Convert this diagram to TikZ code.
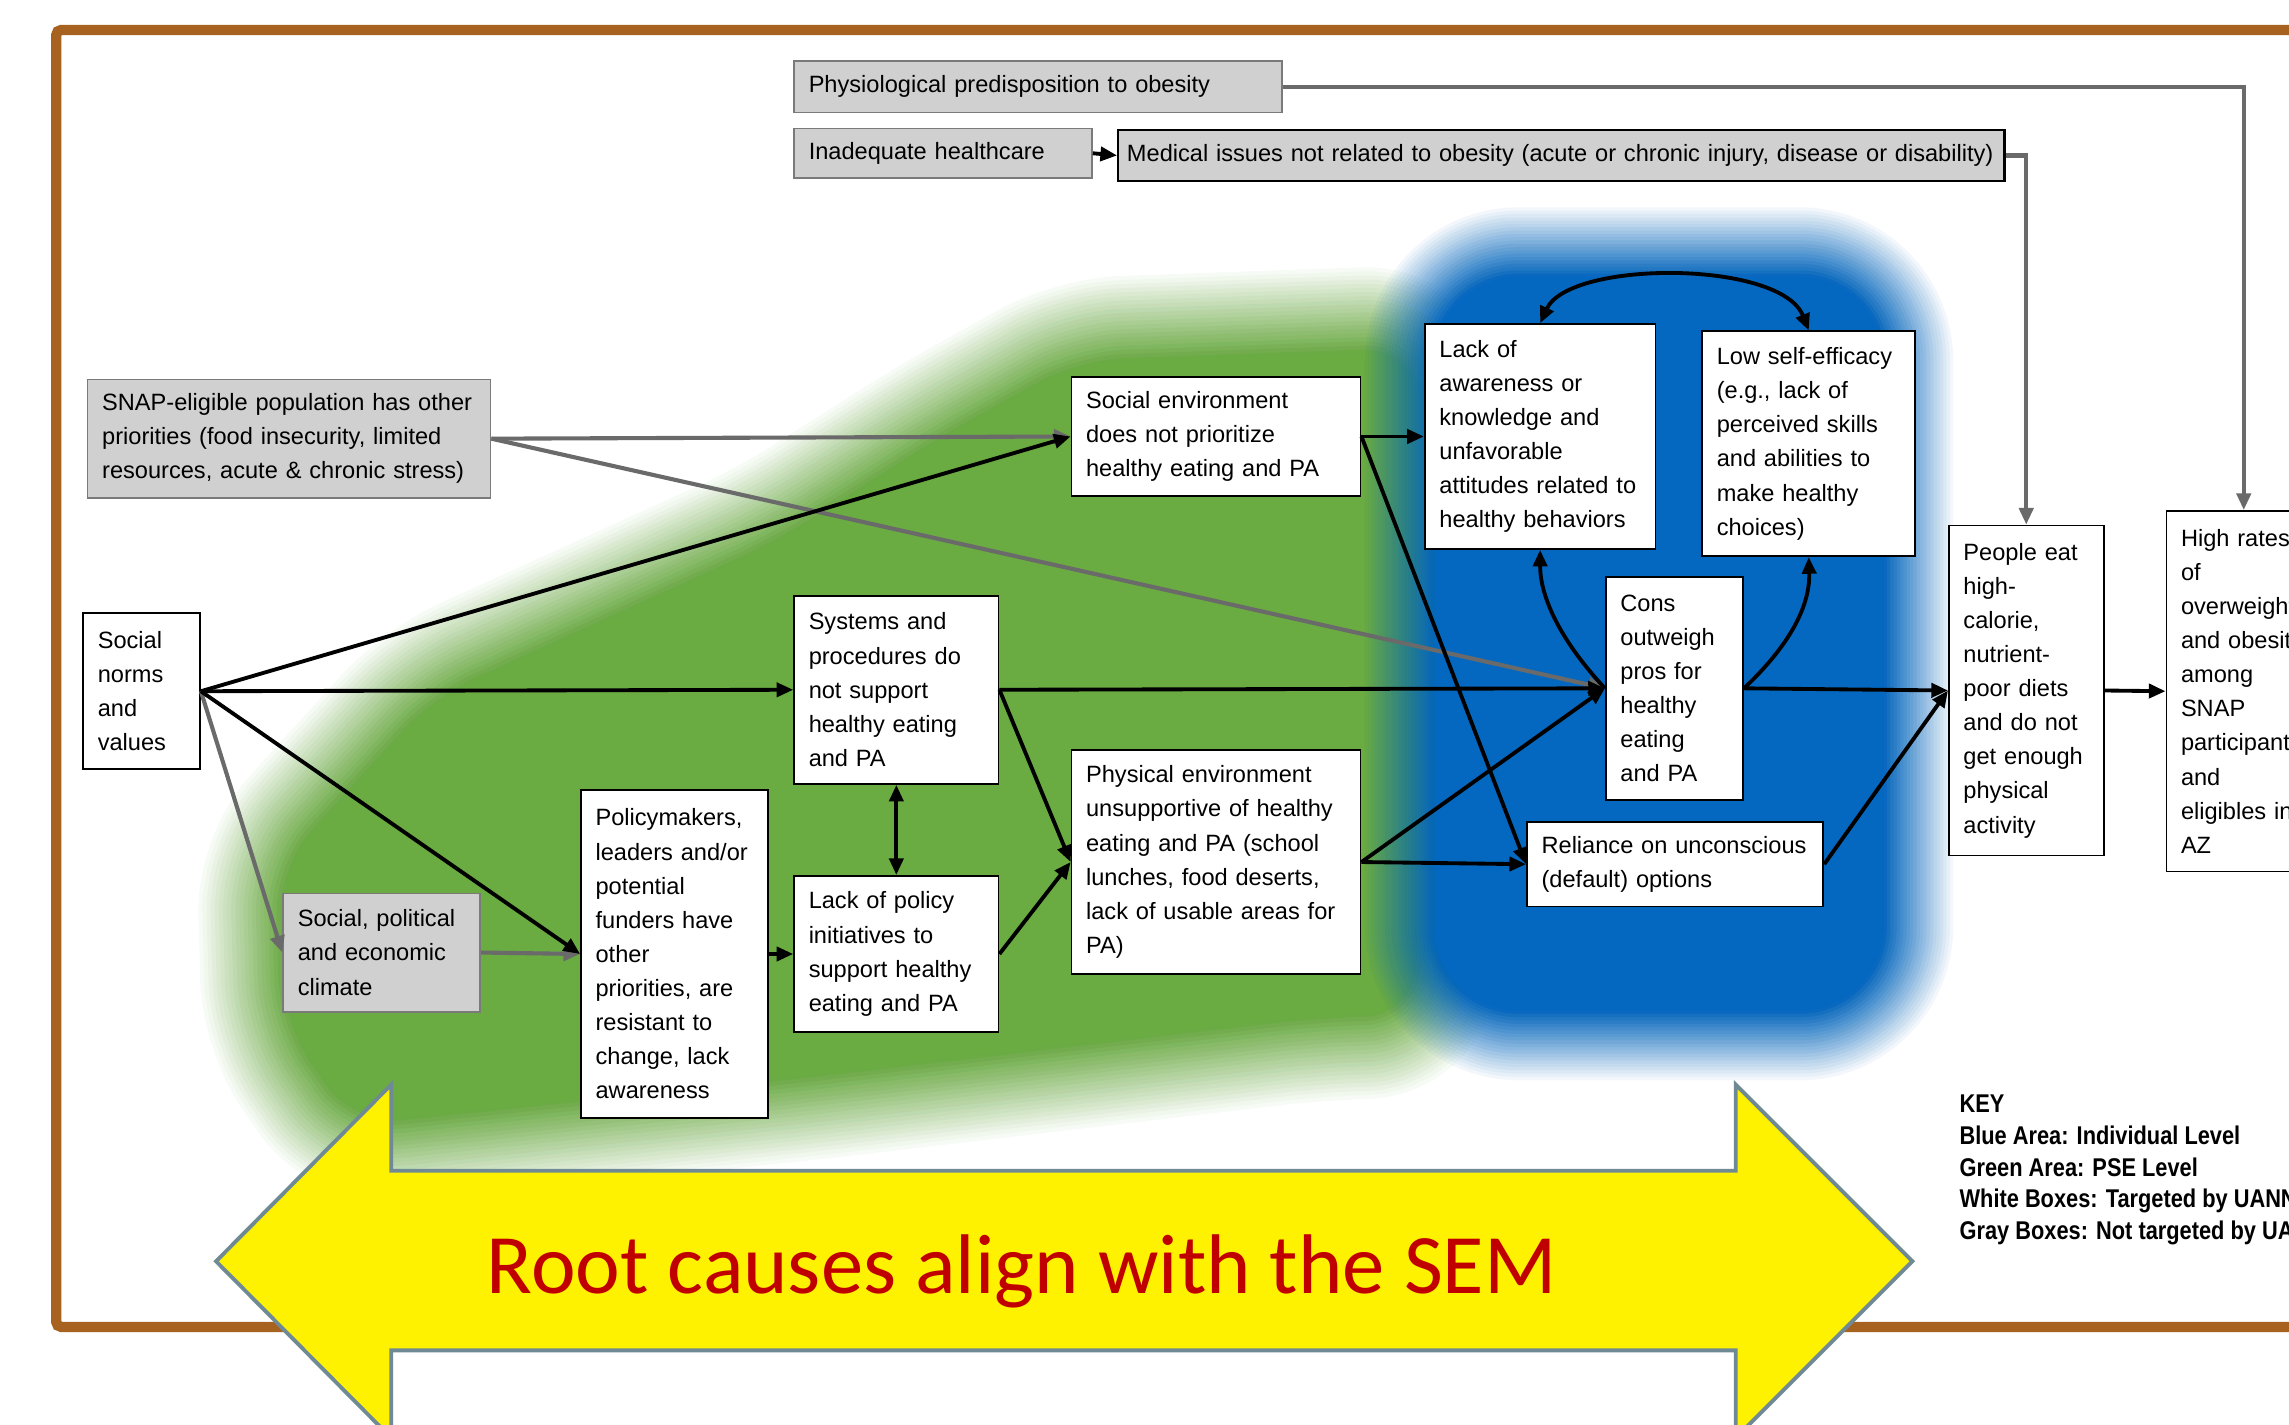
\documentclass[tikz,border=0pt]{standalone}
\usepackage{fontspec}
\setmainfont{Liberation Sans}
\newfontfamily\bannerfont{Carlito}
\newfontfamily\keyfont{Liberation Sans}[FakeStretch=0.85]
\usetikzlibrary{arrows.meta}

\definecolor{framebrown}{HTML}{A8621F}
\definecolor{greenarea}{HTML}{6AAB42}
\definecolor{bluearea}{HTML}{0468C0}
\definecolor{boxgray}{HTML}{D0D0D0}
\definecolor{boxgrayedge}{HTML}{7A7A7A}
\definecolor{linegray}{HTML}{6A6A6A}
\definecolor{arrowedge}{HTML}{6F8A94}
\definecolor{bannerred}{HTML}{C00000}

% soft-edged filled region: nested translucent strokes (opacity 1/k)
% give a linear fall-off of width #2 around a solid core with corner radius #3
\newcommand\softregion[4]{%
  \foreach \k in {1,...,22}{%
    \pgfmathsetlengthmacro\featherlw{#2*\k/22*0.04cm}%
    \pgfmathsetmacro\featherop{1/\k}%
    \draw[draw=#1, draw opacity=\featherop, line join=round, rounded corners=#3, line width=\featherlw] #4;
  }%
  \fill[#1, rounded corners=#3] #4;
}

\newcommand\boxfont{\fontsize{9.2pt}{13.3pt}\selectfont}

\tikzset{
  box/.style={draw=black, line width=0.7pt, fill=white, inner ysep=0pt,
              align=left, font=\boxfont, text=black},
  graybox/.style={box, fill=boxgray, draw=boxgrayedge},
  szp/.code n args={3}{%
    \pgfmathsetlengthmacro\boxtw{(#1-2*#3)*0.02cm}%
    \pgfmathsetlengthmacro\boxpad{#3*0.02cm}%
    \pgfkeysalso{minimum width=#1*0.02cm, minimum height=#2*0.02cm,
                 text width=\boxtw, inner xsep=\boxpad}},
  sz/.style 2 args={szp={#1}{#2}{10}},
  tip/.tip={Triangle[length=6.5pt,width=5.5pt]},
  bline/.style={draw=black, line width=1.5pt, -tip},
  gline/.style={draw=linegray, line width=1.6pt, -tip},
  keytext/.style={font=\keyfont\bfseries\fontsize{10pt}{12pt}\selectfont,
                  inner sep=0pt, anchor=base west, text=black},
}

\begin{document}
\begin{tikzpicture}[x=0.02cm, y=-0.02cm]
\useasboundingbox (0,0) rectangle (1568,976);
\clip (0,0) rectangle (1568,976);
\fill[white] (0,0) rectangle (1568,976);

% outer frame
\draw[framebrown, line width=4pt, rounded corners=2pt] (38.5,20.5) rectangle (1620,909);

% policy, systems and environment area
\softregion{greenarea}{62}{0.6cm}{(245,765) -- (200,700) -- (197,595) -- (300,482) -- (535,375) -- (645,305) -- (740,252) -- (965,244) -- (965,690) -- (900,692) -- (560,732) -- cycle}
% individual area
\softregion{bluearea}{50}{1.1cm}{(985,192) -- (1288,192) -- (1288,690) -- (985,690) -- cycle}

% boxes
\node[graybox, sz={334}{35}] (phys) at (711,59.5) {Physiological predisposition to obesity};
\node[graybox, sz={204}{34}] (inadq) at (646,105) {Inadequate healthcare};
\node[graybox, draw=black, line width=0.9pt, szp={607}{35}{6}] (medical) at (1069.5,106.5)
  {Medical issues not related to obesity (acute or chronic injury, disease or disability)};
\node[graybox, sz={276}{81}] (snap) at (198,300.5)
  {SNAP-eligible population has other\\priorities (food insecurity, limited\\resources, acute \& chronic stress)};
\node[box, sz={80}{107}] (norms) at (97,473.5) {Social\\norms\\and\\values};
\node[graybox, sz={135}{81}] (spe) at (261.5,652.5) {Social, political\\and economic\\climate};
\node[box, sz={128}{225}] (policy) at (462,653.5)
  {Policymakers,\\leaders and/or\\potential\\funders have\\other\\priorities, are\\resistant to\\change, lack\\awareness};
\node[box, sz={140}{129}] (systems) at (614,472.5)
  {Systems and\\procedures do\\not support\\healthy eating\\and PA};
\node[box, sz={140}{107}] (lackpol) at (614,653.5)
  {Lack of policy\\initiatives to\\support healthy\\eating and PA};
\node[box, sz={198}{82}] (socenv) at (833,299)
  {Social environment\\does not prioritize\\healthy eating and PA};
\node[box, sz={198}{153}] (physenv) at (833,590.5)
  {Physical environment\\unsupportive of healthy\\eating and PA (school\\lunches, food deserts,\\lack of usable areas for\\PA)};
\node[box, sz={158}{154}] (aware) at (1055,299)
  {Lack of\\awareness or\\knowledge and\\unfavorable\\attitudes related to\\healthy behaviors};
\node[box, sz={146}{154}] (selfeff) at (1239,304)
  {Low self-efficacy\\(e.g., lack of\\perceived skills\\and abilities to\\make healthy\\choices)};
\node[box, sz={94}{153}] (cons) at (1147,471.5)
  {Cons\\outweigh\\pros for\\healthy\\eating\\and PA};
\node[box, sz={203}{58}] (reliance) at (1147.5,592)
  {Reliance on unconscious\\(default) options};
\node[box, sz={106}{226}] (people) at (1388,473)
  {People eat\\high-\\calorie,\\nutrient-\\poor diets\\and do not\\get enough\\physical\\activity};
\node[box, sz={106}{247}] (high) at (1537,473.5)
  {High rates\\of\\overweight\\and obesity\\among\\SNAP\\participants\\and\\eligibles in\\AZ};

% connectors: gray (factors not targeted)
\draw[gline] (snap.east) -- (socenv.west);
\draw[gline] (snap.east) -- (cons.west);
\draw[gline] (norms.east) -- (spe.west);
\draw[gline] (spe.east) -- (policy.west);
\draw[gline] (phys.east) -| (high.north);
\draw[gline] (medical.east) -| (people.north);

% connectors: black
\draw[bline] (inadq.east) -- (medical.west);
\draw[bline] (norms.east) -- (socenv.west);
\draw[bline] (norms.east) -- (systems.west);
\draw[bline] (norms.east) -- (policy.west);
\draw[bline] (policy.east) -- (lackpol.west);
\draw[bline, tip-tip] (systems.south) -- (lackpol.north);
\draw[bline] (systems.east) -- (physenv.west);
\draw[bline] (lackpol.east) -- (physenv.west);
\draw[bline] (systems.east) -- (cons.west);
\draw[bline] (physenv.east) -- (cons.west);
\draw[bline] (physenv.east) -- (reliance.west);
\draw[bline] (socenv.east) -- (aware.west);
\draw[bline] (socenv.east) -- (reliance.west);
\draw[bline] (cons.east) -- (people.west);
\draw[bline] (reliance.east) -- (people.west);
\draw[bline] (people.east) -- (high.west);
\draw[bline] (cons.west) .. controls (1070,440) and (1055,410) .. (aware.south);
\draw[bline] (cons.east) .. controls (1226,442) and (1240,415) .. (selfeff.south);
\draw[bline, tip-tip] (aware.north) .. controls (1075,178) and (1220,178) .. (selfeff.north);

% banner arrow
\filldraw[fill=yellow, draw=arrowedge, line width=1.5pt, line join=miter]
  (148,864) -- (268,743) -- (268,802) -- (1189,802) -- (1189,743) -- (1310,864)
  -- (1189,985) -- (1189,925) -- (268,925) -- (268,985) -- cycle;
\node[font=\bannerfont\fontsize{33pt}{40pt}\selectfont, text=bannerred, anchor=base, inner sep=0pt]
  (banner) at (700,886) {Root causes align with the SEM};

% key
\node[keytext] (key0) at (1342,762) {KEY};
\node[keytext] (key1) at (1342,784) {Blue Area: Individual Level};
\node[keytext] (key2) at (1342,806) {Green Area: PSE Level};
\node[keytext] (key3) at (1342,827) {White Boxes: Targeted by UANN};
\node[keytext] (key4) at (1342,849) {Gray Boxes: Not targeted by UANN};
\end{tikzpicture}
\end{document}
